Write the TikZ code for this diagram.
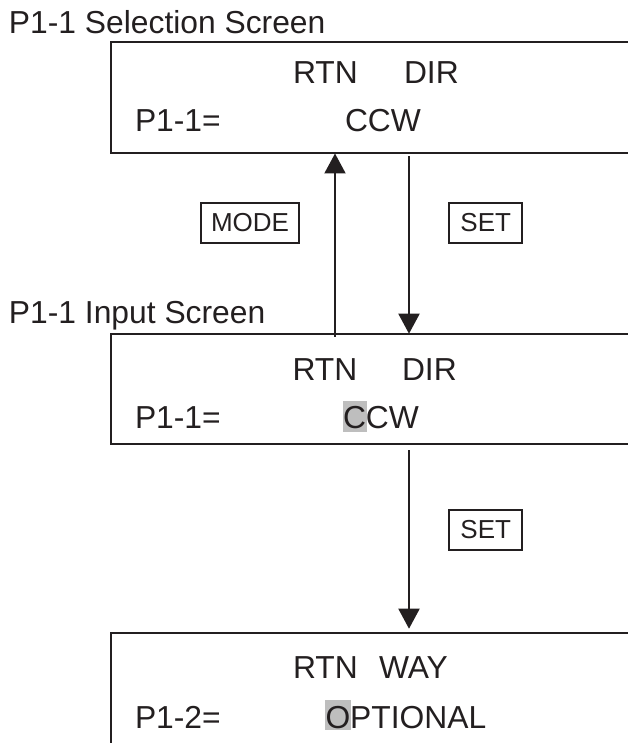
\documentclass[tikz,border=0pt]{standalone}
\usepackage{fontspec}
\setmainfont{Liberation Sans}
\usetikzlibrary{arrows.meta}
\definecolor{ink}{RGB}{35,31,32}
\definecolor{hlgray}{RGB}{190,190,190}
\begin{document}
\begin{tikzpicture}[x=1pt,y=-1pt,
  every node/.style={inner sep=0pt,outer sep=0pt,text=ink,font=\fontsize{31.8}{38}\selectfont},
  txt/.style={anchor=base west},
  screen/.style={draw=ink,line width=2pt,minimum width=700pt,minimum height=#1,anchor=north west},
  keybox/.style={draw=ink,line width=1.8pt,minimum height=40pt,anchor=center,font=\fontsize{26}{30}\selectfont},
  conn/.style={draw=ink,line width=2pt,-{Triangle[length=20pt,width=21pt]}}]
\useasboundingbox (0,0) rectangle (627,743);
% titles
\node[txt] (t1) at (9,33.3) {P1-1 Selection Screen};
\node[txt] (t2) at (9,323.3) {P1-1 Input Screen};
% screens
\node[screen=111.5pt] (box1) at (110.7,42) {};
\node[screen=110.5pt] (box2) at (110.7,333.7) {};
\node[screen=300pt] (box3) at (110.7,632.7) {};
% highlights
\fill[hlgray] (342.7,400.7) rectangle (366.7,431.7);
\fill[hlgray] (325,700) rectangle (351,730);
% texts box1
\node[txt] (b1a) at (293,83.3) {RTN};
\node[txt] (b1b) at (404,83.3) {DIR};
\node[txt] (b1c) at (135,131.7) {P1-1=};
\node[txt] (b1d) at (345,131.7) {CCW};
% texts box2
\node[txt] (b2a) at (292.5,380) {RTN};
\node[txt] (b2b) at (402,380) {DIR};
\node[txt] (b2c) at (135,428) {P1-1=};
\node[txt] (b2d) at (343,428) {CCW};
% texts box3
\node[txt] (b3a) at (293,678) {RTN};
\node[txt] (b3b) at (379,678) {WAY};
\node[txt] (b3c) at (135,728) {P1-2=};
\node[txt] (b3d) at (325.5,728) {OPTIONAL};
% key boxes
\node[keybox,minimum width=98.6pt] (mode) at (250,222.7) {MODE};
\node[keybox,minimum width=72.7pt] (set1) at (485.7,222.7) {SET};
\node[keybox,minimum width=72.7pt] (set2) at (485.7,530) {SET};
% connectors
\coordinate (ux) at (335,0);
\coordinate (dx) at (409,0);
\draw[conn,shorten <=-3pt] (box2.north -| ux) -- (box1.south -| ux);
\draw[conn,shorten <=3pt] (box1.south -| dx) -- (box2.north -| dx);
\draw[conn,shorten <=6pt,shorten >=4pt] (box2.south -| dx) -- (box3.north -| dx);
\end{tikzpicture}
\end{document}
